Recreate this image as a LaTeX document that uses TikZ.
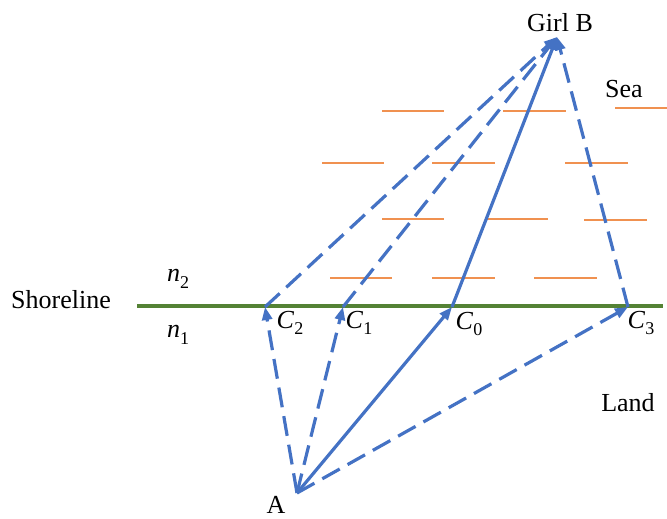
\documentclass[tikz,border=0pt]{standalone}
\usepackage{fontspec}
\setmainfont{Liberation Serif}
\usetikzlibrary{arrows.meta,positioning}
\definecolor{rayblue}{HTML}{4472C4}
\definecolor{shoregreen}{HTML}{548235}
\definecolor{wavecol}{HTML}{ED7D31}
\newcommand{\ptname}[2]{\textit{#1}\raisebox{-0.25em}{\fontsize{18}{20}\selectfont #2}}

\begin{document}
\begin{tikzpicture}[x=1pt, y=-1pt, font=\fontsize{26}{30}\selectfont,
    ray/.style={draw=rayblue, line width=3.2pt, -{Triangle[length=13pt,width=10pt]}},
    dashray/.style={ray, dash pattern=on 20pt off 9pt},
    lbl/.style={inner sep=0pt}]
        \useasboundingbox (0,0) rectangle (667,519);

        % sea waves
        \foreach \xa/\xb/\yy in {382/444/111, 503/566/111, 615/667/108,
                                 322/384/163, 432/495/163, 565/628/163,
                                 382/444/219, 486/548/219, 584/647/220,
                                 330/392/278, 432/495/278, 534/597/278}
            \draw[wavecol!85, line width=1.3pt] (\xa,\yy) -- (\xb,\yy);

        % shoreline
        \coordinate (shoreW) at (137,306);
        \coordinate (shoreE) at (663,306);
        \draw[shoregreen, line width=4pt] (shoreW) -- (shoreE);

        \coordinate (A) at (297,493);
        \coordinate (B) at (557,37);
        \coordinate (c0) at (452,307);
        \coordinate (c1) at (343,307);
        \coordinate (c2) at (265,307);
        \coordinate (c3) at (628,307);

        \node[lbl, anchor=base] (shore) at (61,308) {Shoreline};
        \node[lbl, anchor=base] (girl) at (560,32) {Girl B};
        \node[lbl, anchor=base] (sea) at (624,98) {Sea};
        \node[lbl, anchor=base] (land) at (628,411) {Land};
        \node[lbl, anchor=base] (start) at (276,513) {A};
        \node[lbl] (n2) at (178,279) {\ptname{n}{2}};
        \node[lbl] (n1) at (178,335) {\ptname{n}{1}};
        \node[lbl] (c2lbl) at (290,323) {\ptname{C}{2}};
        \node[lbl] (c1lbl) at (359,323) {\ptname{C}{1}};
        \node[lbl] (c0lbl) at (469,324) {\ptname{C}{0}};
        \node[lbl] (c3lbl) at (641,323) {\ptname{C}{3}};

        % from A to the shore
        \draw[dashray] (A) -- (c2);
        \draw[dashray] (A) -- (c1);
        \draw[ray] (A) -- (c0);
        \draw[dashray] (A) -- (c3);

        % from the shore to B
        \draw[dashray] (c2) -- (B);
        \draw[dashray] (c1) -- (B);
        \draw[ray] (c0) -- (B);
        \draw[dashray] (c3) -- (B);
    \end{tikzpicture}
\end{document}
